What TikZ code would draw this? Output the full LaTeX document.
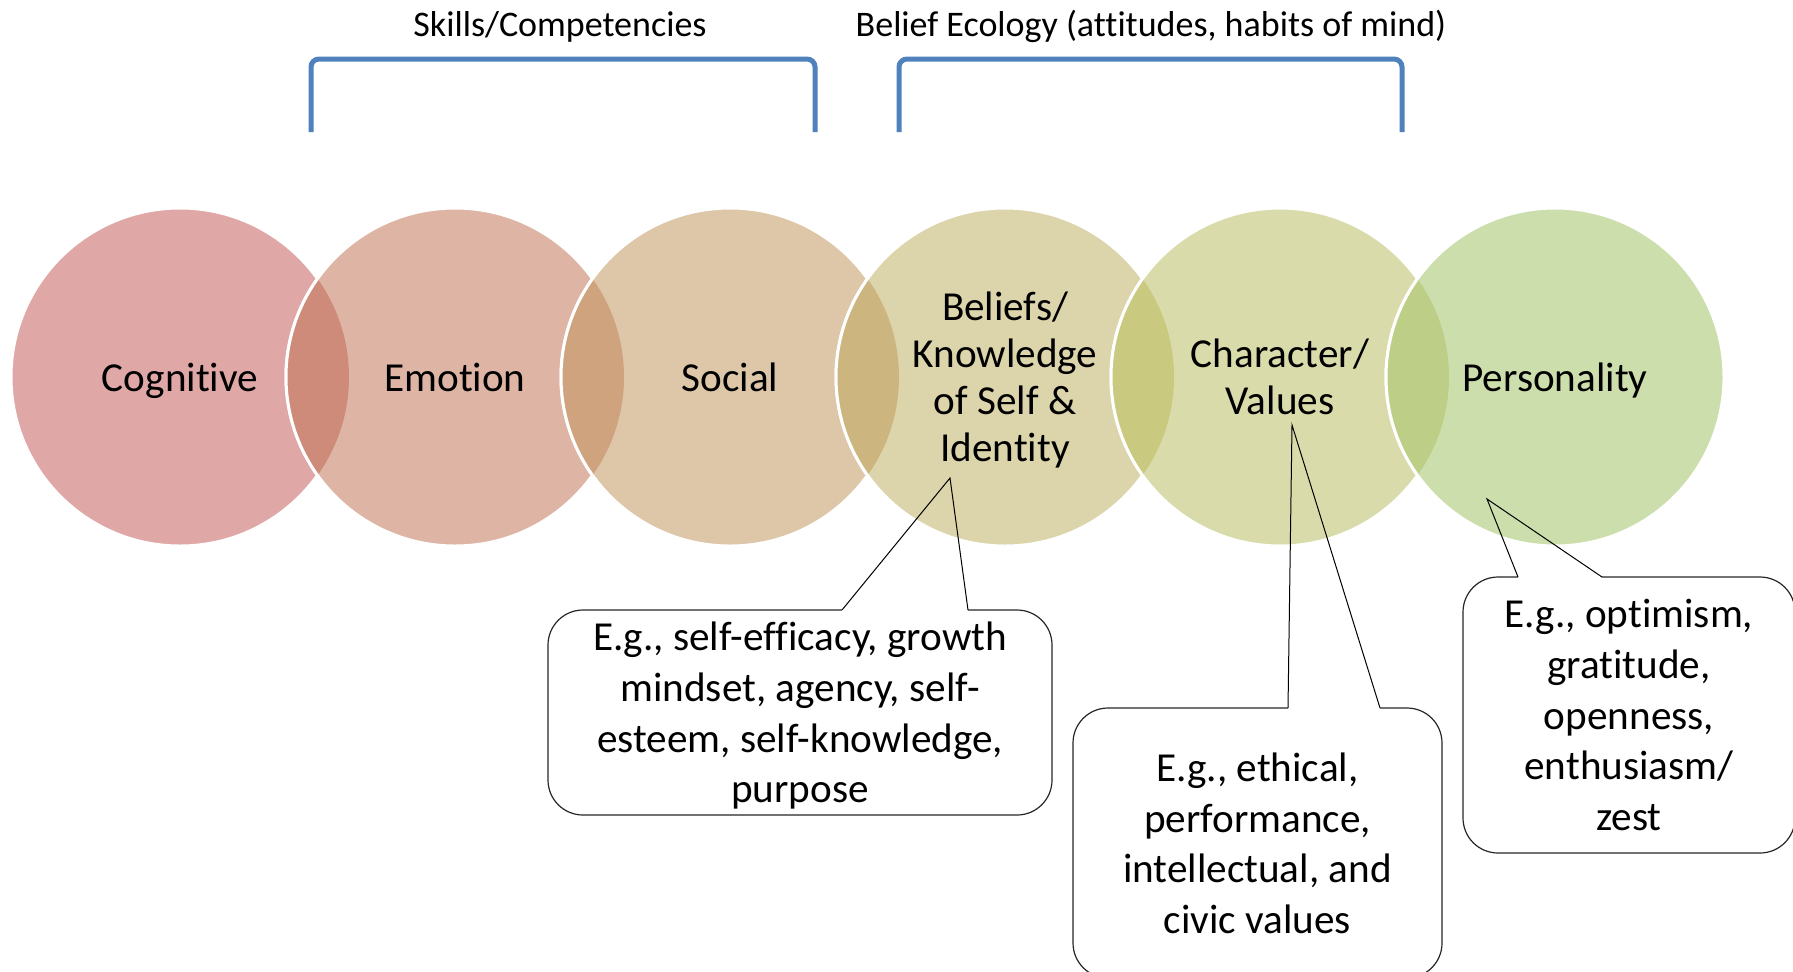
\documentclass[tikz,border=0pt]{standalone}
\usepackage{fontspec}
\setmainfont{Carlito}[RawFeature={-liga;-clig;-calt;-dlig}]
\definecolor{cogcol}{RGB}{223,167,166}
\definecolor{emocol}{RGB}{222,181,164}
\definecolor{soccol}{RGB}{221,199,168}
\definecolor{belcol}{RGB}{220,212,170}
\definecolor{chacol}{RGB}{217,220,170}
\definecolor{percol}{RGB}{205,222,173}
\definecolor{cogemo}{RGB}{206,139,122}
\definecolor{emosoc}{RGB}{207,163,126}
\definecolor{socbel}{RGB}{205,181,127}
\definecolor{belcha}{RGB}{201,201,128}
\definecolor{chaper}{RGB}{189,207,135}
\definecolor{bracketblue}{RGB}{79,129,189}
\tikzstyle{circ} = [circle, minimum size=169pt, inner sep=0pt, align=center, text depth=0pt, draw=white, line width=1.5pt, font=\fontsize{20.6}{23.5}\selectfont]
\tikzstyle{example} = [rectangle, rounded corners=17.5pt, draw=black!85, line width=0.6pt, fill=white, align=center, inner sep=0pt, text depth=0pt, font=\fontsize{20.6}{25.3}\selectfont]
\tikzstyle{bracket} = [line width=2.5pt, draw=bracketblue, rounded corners=4pt]
\tikzstyle{pointer} = [line width=0.5pt, draw=black]
\tikzstyle{grouplabel} = [anchor=base, font=\fontsize{18}{22}\selectfont]

\begin{document}
\begin{tikzpicture}[x=0.5pt, y=-0.5pt, node distance=137.5pt]
	\useasboundingbox (0,0) rectangle (1793,971);

	% the six circles
	\node (cog) [circ, fill=cogcol] at (180,377) {Cognitive};
	\node (emo) [circ, fill=emocol, right of=cog] {Emotion};
	\node (soc) [circ, fill=soccol, right of=emo] {Social};
	\node (bel) [circ, fill=belcol, right of=soc] {Beliefs/\\Knowledge\\of Self \&\\Identity};
	\node (cha) [circ, fill=chacol, right of=bel] {Character/\\Values};
	\node (per) [circ, fill=percol, right of=cha] {Personality};

	% overlaps
	\foreach \a/\b/\c in {cog/emo/cogemo, emo/soc/emosoc, soc/bel/socbel, bel/cha/belcha, cha/per/chaper} {
		\begin{scope}
			\clip (\a.center) circle (84.5pt);
			\fill[\c] (\b.center) circle (84.5pt);
			\draw[white, line width=1.5pt] (\b.center) circle (84.5pt);
		\end{scope}
	}

	% brackets
	\node (skills) [grouplabel] at (560,36) {Skills/Competencies};
		\draw [bracket] (311,132) -- (311,59) -- (815,59) -- (815,132);
	\node (belief) [grouplabel] at (1151,36) {Belief Ecology (attitudes, habits of mind)};
		\draw [bracket] (899,132) -- (899,59) -- (1402,59) -- (1402,132);

	% examples
	\node (egbel) [example, minimum width=252pt, minimum height=102.5pt] at (800,712.5) {E.g., self-efficacy, growth\\mindset, agency, self-\\esteem, self-knowledge,\\purpose};
		\coordinate (tipbel) at (950,478);
		\coordinate (belL) at (842,610);
		\coordinate (belR) at (968,610);
		\draw [white, line width=1.5pt] (belL) -- (belR);
		\draw [pointer] (belL) -- (tipbel) -- (belR);

	\node (egcha) [example, minimum width=184.5pt, minimum height=135pt] at (1257.5,843) {E.g., ethical,\\performance,\\intellectual, and\\civic values};
		\coordinate (tipcha) at (1292,425);
		\coordinate (chaL) at (1288,708);
		\coordinate (chaR) at (1380,708);
		\draw [white, line width=1.5pt] (chaL) -- (chaR);
		\draw [pointer] (chaL) -- (tipcha) -- (chaR);

	\node (egper) [example, minimum width=166pt, minimum height=138pt] at (1629,715) {E.g., optimism,\\gratitude,\\openness,\\enthusiasm/\\zest};
		\coordinate (tipper) at (1487,499);
		\coordinate (perL) at (1518,577);
		\coordinate (perR) at (1602,577);
		\draw [white, line width=1.5pt] (perL) -- (perR);
		\draw [pointer] (perL) -- (tipper) -- (perR);

\end{tikzpicture}
\end{document}
